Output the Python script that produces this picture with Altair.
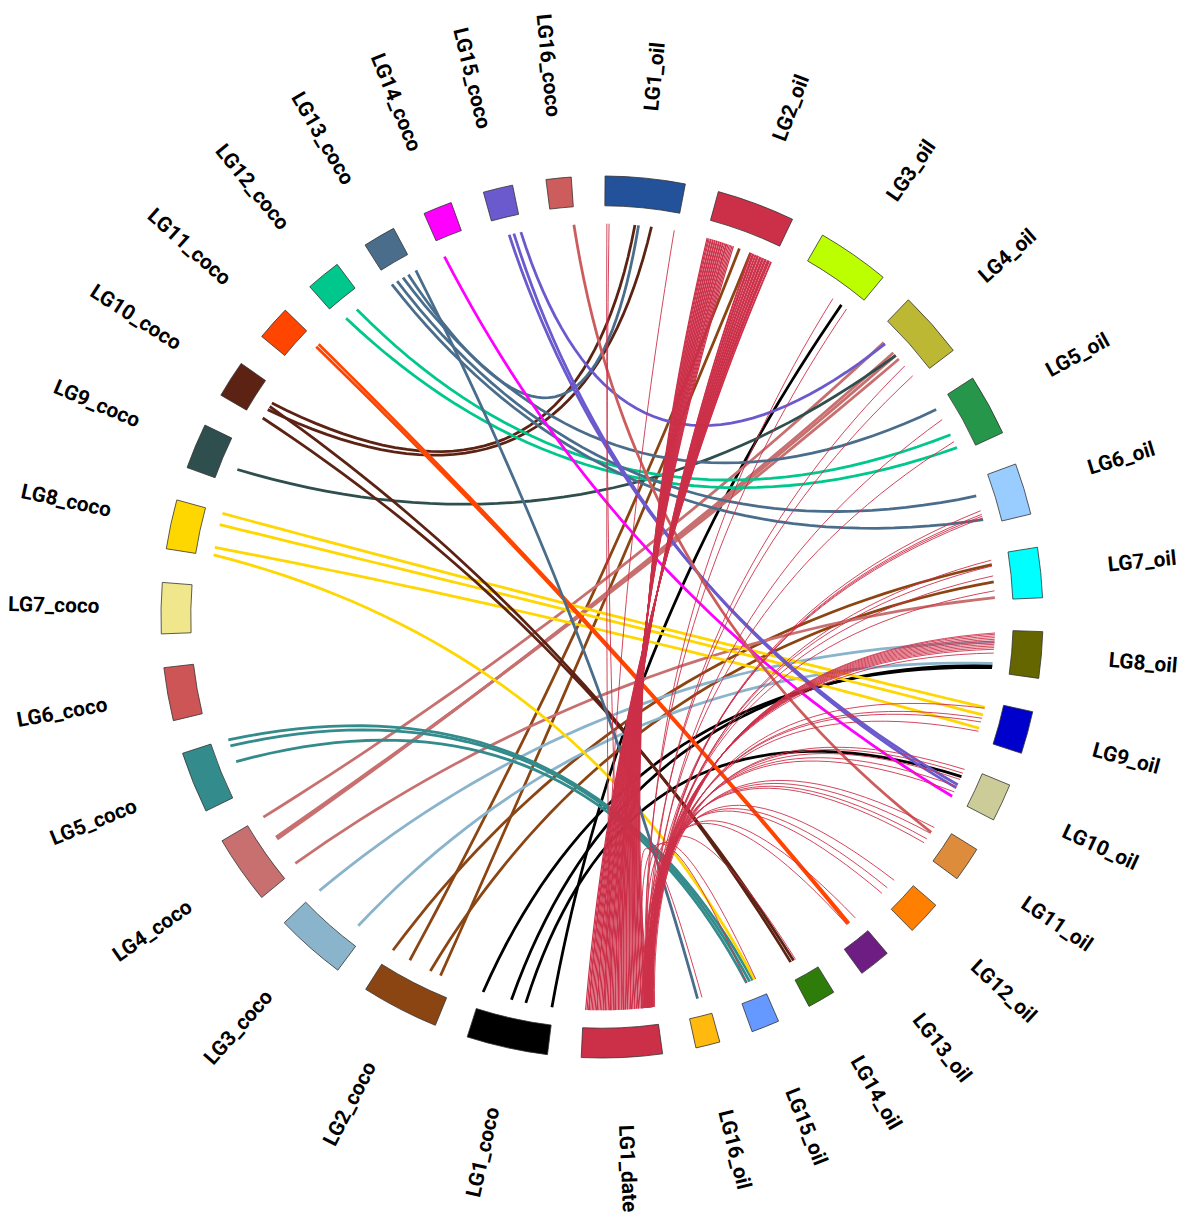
import math
import altair as alt
import pandas as pd

# ---------------- data ----------------
oil_names = [f"LG{i}_oil" for i in range(1, 17)]
date_names = ["LG1_date"]
coco_names = [f"LG{i}_coco" for i in range(1, 17)]

oil_sizes = [10.5, 10.3, 9.6, 8.8, 8.1, 6.8, 6.6, 6.1, 5.6, 5.0, 4.6, 4.5, 4.2, 3.7, 3.7, 3.2]
date_sizes = [10.6]
coco_sizes = [10.7, 10.2, 9.3, 9.0, 8.1, 7.0, 6.7, 6.5, 6.0, 4.9, 4.6, 4.6, 4.3, 3.8, 3.9, 3.3]

oil_colors = ["#23529B", "#CC3049", "#BBFF00", "#BDB833", "#26974A", "#99CCFF", "#00FFFF", "#666600",
              "#0000CC", "#CCCC99", "#DD8C3C", "#FF8000", "#6E1E82", "#2E7D0A", "#6699FF", "#FFB90F"]
date_colors = ["#CC3049"]
coco_colors = ["#000000", "#8B4513", "#8AB4CC", "#C87070", "#338B8B", "#CD5555", "#F0E68C", "#FFD700",
               "#2F4F4F", "#5C2314", "#FF4500", "#00C78C", "#4A6D8C", "#FF00FF", "#6A5ACD", "#CD5C5C"]

# coco -> oil links (fractional position along each segment, clockwise)
coco_src = ["LG1_coco", "LG1_coco", "LG1_coco", "LG1_coco",
            "LG2_coco", "LG2_coco", "LG2_coco", "LG2_coco",
            "LG3_coco", "LG3_coco",
            "LG4_coco", "LG4_coco", "LG4_coco", "LG4_coco", "LG4_coco",
            "LG5_coco", "LG5_coco", "LG5_coco",
            "LG8_coco", "LG8_coco", "LG8_coco", "LG8_coco",
            "LG9_coco",
            "LG10_coco", "LG10_coco", "LG10_coco", "LG10_coco",
            "LG11_coco", "LG11_coco",
            "LG12_coco", "LG12_coco",
            "LG13_coco", "LG13_coco", "LG13_coco", "LG13_coco", "LG13_coco",
            "LG14_coco",
            "LG15_coco", "LG15_coco", "LG15_coco",
            "LG16_coco"]
coco_src_pos = [0.02, 0.38, 0.58, 0.98,
                0.20, 0.36, 0.69, 0.97,
                0.16, 0.98,
                0.08, 0.57, 0.59, 0.61, 0.99,
                0.56, 0.86, 0.975,
                0.03, 0.20, 0.72, 0.98,
                0.37,
                0.04, 0.33, 0.44, 0.56,
                0.85, 0.96,
                0.20, 0.64,
                0.05, 0.26, 0.49, 0.70, 0.99,
                0.05,
                0.50, 0.68, 0.95,
                0.97]
coco_dst = ["LG3_oil", "LG10_oil", "LG8_oil", "LG8_oil",
            "LG2_oil", "LG7_oil", "LG2_oil", "LG7_oil",
            "LG8_oil", "LG8_oil",
            "LG7_oil", "LG4_oil", "LG4_oil", "LG4_oil", "LG4_oil",
            "LG15_oil", "LG15_oil", "LG15_oil",
            "LG15_oil", "LG9_oil", "LG9_oil", "LG9_oil",
            "LG4_oil",
            "LG14_oil", "LG1_oil", "LG14_oil", "LG1_oil",
            "LG13_oil", "LG13_oil",
            "LG5_oil", "LG5_oil",
            "LG6_oil", "LG6_oil", "LG5_oil", "LG1_oil", "LG16_oil",
            "LG10_oil",
            "LG10_oil", "LG10_oil", "LG4_oil",
            "LG11_oil"]
coco_dst_pos = [0.78, 0.31, 0.85, 0.90,
                0.67, 0.60, 0.50, 0.22,
                0.80, 0.29,
                0.95, 0.43, 0.49, 0.57, 0.20,
                0.55, 0.42, 0.29,
                0.21, 0.72, 0.36, 0.16,
                0.49,
                0.69, 0.65, 0.82, 0.42,
                0.38, 0.33,
                0.90, 0.64,
                0.88, 0.35, 0.12, 0.47, 0.45,
                0.94,
                0.57, 0.67, 0.23,
                0.30]

# date -> LG2_oil dense bundle
date_lg2_src = [0.12, 0.14, 0.15, 0.17, 0.19, 0.20, 0.22, 0.24, 0.25, 0.27, 0.29, 0.30, 0.32,
                0.34, 0.35, 0.37, 0.39, 0.40, 0.42, 0.44, 0.45, 0.47, 0.48, 0.50, 0.52,
                0.54, 0.56, 0.57, 0.59, 0.61, 0.63, 0.64, 0.66, 0.68, 0.70, 0.72, 0.73, 0.75,
                0.77, 0.79, 0.81, 0.82, 0.84, 0.86, 0.88, 0.90, 0.92, 0.93, 0.95, 0.97]
date_lg2_dst = [0.02, 0.035, 0.05, 0.07, 0.08, 0.10, 0.11, 0.13, 0.14, 0.16, 0.17, 0.19, 0.20,
                0.22, 0.23, 0.25, 0.26, 0.28, 0.30, 0.31, 0.33, 0.35, 0.37, 0.39, 0.41,
                0.67, 0.68, 0.70, 0.71, 0.72, 0.74, 0.75, 0.77, 0.78, 0.79, 0.81, 0.82, 0.83,
                0.85, 0.86, 0.87, 0.89, 0.90, 0.91, 0.93, 0.94, 0.95, 0.96, 0.98, 0.99]

# date -> other oil groups: (target, source positions, target positions)
date_fan = [
    ("LG1_oil", [0.45, 0.62, 0.70], [0.03, 0.06, 0.97]),
    ("LG3_oil", [0.10, 0.14], [0.62, 0.88]),
    ("LG4_oil", [0.08, 0.12], [0.72, 0.93]),
    ("LG5_oil", [0.06, 0.11], [0.33, 0.78]),
    ("LG6_oil", [0.05, 0.07, 0.09, 0.13], [0.68, 0.76, 0.80, 0.84]),
    ("LG7_oil", [0.04, 0.09, 0.11, 0.15], [0.12, 0.25, 0.47, 0.80]),
    ("LG8_oil", [0.02, 0.04, 0.05, 0.07, 0.08, 0.10, 0.12, 0.13, 0.15, 0.16, 0.18, 0.20],
                [0.07, 0.10, 0.14, 0.18, 0.22, 0.26, 0.30, 0.34, 0.38, 0.42, 0.46, 0.55]),
    ("LG9_oil", [0.06, 0.09, 0.12, 0.16], [0.18, 0.45, 0.55, 0.80]),
    ("LG10_oil", [0.03, 0.08, 0.11, 0.14, 0.19], [0.08, 0.20, 0.40, 0.62, 0.80]),
    ("LG11_oil", [0.05, 0.10, 0.13, 0.17], [0.12, 0.34, 0.55, 0.70]),
    ("LG12_oil", [0.04, 0.09, 0.15], [0.27, 0.60, 0.85]),
    ("LG13_oil", [0.07, 0.12], [0.05, 0.42]),
    ("LG14_oil", [0.10], [0.60]),
    ("LG15_oil", [0.06, 0.14], [0.16, 0.55]),
    ("LG16_oil", [0.08], [0.24]),
]

# ---------------- layout ----------------
names = oil_names + date_names + coco_names
sizes = oil_sizes + date_sizes + coco_sizes
colors = oil_colors + date_colors + coco_colors
START = 0.4
GAP = (360 - sum(sizes)) / len(sizes)
LINK_R = 396      # radius where links meet the ideograms
PURITY = 0.2      # bezier control point pulled from the centre toward the chord midpoint
FONT = "Roboto"

seg = {}
rows = []
a = START
for n, s, c in zip(names, sizes, colors):
    seg[n] = (a, s, c)
    mid = a + s / 2
    rot = (mid - 90) % 360 if mid < 180 else (mid + 90) % 360
    rows.append(dict(name=n, start=a, end=a + s, mid=mid, rot=rot, color=c, cx=0, cy=0))
    a += s + GAP
seg_df = pd.DataFrame(rows)


def pos(name, frac):
    st, sz, _ = seg[name]
    return st + frac * sz


TS = [i / 40 for i in range(41)]


def link_row(lid, col, w, a0, a1):
    return dict(lid=lid, col=col, w=w, a0=a0, a1=a1, ts=TS)


coco_rows = []
for i, (s, sp, d, dp) in enumerate(zip(coco_src, coco_src_pos, coco_dst, coco_dst_pos)):
    coco_rows.append(link_row(f"c{i}", seg[s][2], 2.8, pos(s, sp), pos(d, dp)))
coco_df = pd.DataFrame(coco_rows)

date_rows = []
k = 0
for sp, dp in zip(date_lg2_src, date_lg2_dst):
    date_rows.append(link_row(f"d{k}", date_colors[0], 1.2, pos("LG1_date", sp), pos("LG2_oil", dp)))
    k += 1
for tgt, sps, dps in date_fan:
    for sp, dp in zip(sps, dps):
        date_rows.append(link_row(f"d{k}", date_colors[0], 0.9, pos("LG1_date", sp), pos(tgt, dp)))
        k += 1
date_df = pd.DataFrame(date_rows)

# ---------------- chart ----------------
xs = alt.Scale(domain=[-598, 594], nice=False, zero=False)
ys = alt.Scale(domain=[-611, 609], nice=False, zero=False)
th = alt.Scale(domain=[0, 360], range=[0, 2 * math.pi], nice=False, zero=False)

X0 = alt.X("cx:Q", scale=xs, axis=None)
Y0 = alt.Y("cy:Q", scale=ys, axis=None)

arcs = alt.Chart(seg_df).mark_arc(radius=444, radius2=414, stroke="#333333", strokeWidth=0.8).encode(
    x=X0, y=Y0,
    theta=alt.Theta("start:Q", scale=th, stack=False),
    theta2="end:Q",
    color=alt.Color("color:N", scale=None),
)


def link_layer(df):
    p0 = f"{LINK_R}*{{f}}(datum.a0*PI/180)"
    p1 = f"{LINK_R}*{{f}}(datum.a1*PI/180)"
    bx = (f"(1-datum.t)*(1-datum.t)*{p0}"
          f" + 2*datum.t*(1-datum.t)*{PURITY}*0.5*({p0}+{p1})"
          f" + datum.t*datum.t*{p1}")
    return alt.Chart(df).transform_flatten(["ts"], as_=["t"]).transform_calculate(
        x=bx.format(f="sin"),
        y=bx.format(f="cos"),
    ).mark_line(strokeCap="butt", interpolate="linear").encode(
        x=alt.X("x:Q", scale=xs, axis=None),
        y=alt.Y("y:Q", scale=ys, axis=None),
        detail="lid:N",
        order="t:Q",
        color=alt.Color("col:N", scale=None),
        strokeWidth=alt.StrokeWidth("w:Q", scale=None),
    )


coco_links = link_layer(coco_df)
date_links = link_layer(date_df)


def label_layer(cond, align, r):
    return alt.Chart(seg_df).transform_filter(cond).mark_text(
        radius=r, align=align, baseline="middle", font=FONT, fontSize=21, fontWeight="bold", color="#000000"
    ).encode(
        x=X0, y=Y0,
        theta=alt.Theta("mid:Q", scale=th, stack=False),
        angle=alt.Angle("rot:Q", scale=None),
        text="name:N",
    )


labels_r = label_layer("datum.mid < 180", "left", 512)
labels_l = label_layer("datum.mid >= 180", "right", 506)

chart = alt.layer(arcs, coco_links, date_links, labels_r, labels_l).properties(
    width=1192, height=1220, autosize=alt.AutoSizeParams(type="none"), padding=0, background="#ffffff"
).configure_view(strokeWidth=0)

chart.save("out.html", embed_options={"renderer": "svg", "actions": False})
